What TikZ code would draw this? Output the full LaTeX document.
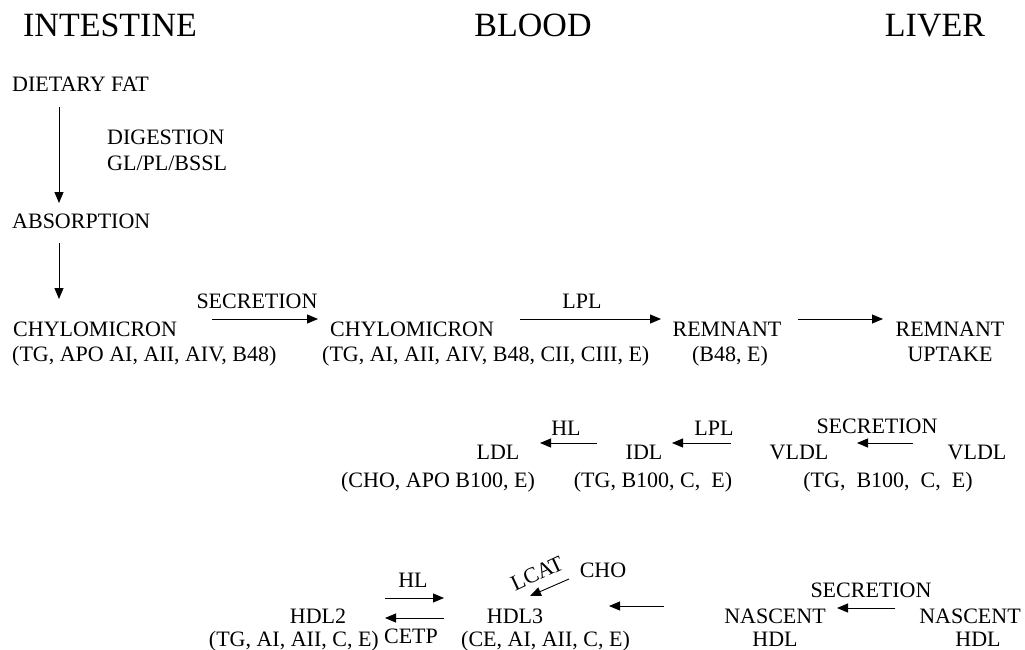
\documentclass[tikz,border=0pt]{standalone}
\usepackage{fontspec}
\setmainfont{Liberation Serif}
\usetikzlibrary{arrows.meta}

\begin{document}
\begin{tikzpicture}[x=1pt,y=-1pt,
  txt/.style={inner sep=0pt,font=\fontsize{22}{25}\selectfont},
  ttl/.style={inner sep=0pt,font=\fontsize{34}{38}\selectfont},
  arr/.style={-{Triangle[length=11pt,width=9pt]},line width=0.9pt}]
\useasboundingbox (0,0) rectangle (1025,650);
% titles
\node[ttl,anchor=base] (intes) at (110,37) {INTESTINE};
\node[ttl,anchor=base] (blood) at (533,37) {BLOOD};
\node[ttl,anchor=base] (liver) at (935,37) {LIVER};
% intestine column
\node[txt,anchor=base west] (fat) at (12,92) {DIETARY FAT};
\node[txt,anchor=base west] (dig) at (107,145) {DIGESTION};
\node[txt,anchor=base west] (bssl) at (107,170) {GL/PL/BSSL};
\node[txt,anchor=base west] (absn) at (12,228) {ABSORPTION};
\coordinate (d1) at (59,107); \coordinate (d2) at (59,203);
\coordinate (d3) at (59,243); \coordinate (d4) at (59,299);
\draw[arr] (d1) -- (d2);
\draw[arr] (d3) -- (d4);
% chylomicron row
\node[txt,anchor=base west] (chyA) at (13,336) {CHYLOMICRON};
\node[txt,anchor=base west] (chyAp) at (12,361) {(TG, APO AI, AII, AIV, B48)};
\node[txt,anchor=base] (secA) at (257,308) {SECRETION};
\node[txt,anchor=base west] (chyB) at (330,336) {CHYLOMICRON};
\node[txt,anchor=base west] (chyBp) at (322,361) {(TG, AI, AII, AIV, B48, CII, CIII, E)};
\node[txt,anchor=base] (lplA) at (582,308) {LPL};
\node[txt,anchor=base] (remA) at (727,336) {REMNANT};
\node[txt,anchor=base] (remAp) at (730,361) {(B48, E)};
\node[txt,anchor=base] (remB) at (950,336) {REMNANT};
\node[txt,anchor=base] (upt) at (950,361) {UPTAKE};
\coordinate (r1) at (212,319); \coordinate (r2) at (318,319);
\coordinate (r3) at (520,319); \coordinate (r4) at (661,319);
\coordinate (r5) at (798,319); \coordinate (r6) at (883,319);
\draw[arr] (r1) -- (r2);
\draw[arr] (r3) -- (r4);
\draw[arr] (r5) -- (r6);
% vldl row
\node[txt,anchor=base] (hlA) at (566,435) {HL};
\node[txt,anchor=base] (ldl) at (498,459) {LDL};
\node[txt,anchor=base] (ldlp) at (438,487) {(CHO, APO B100, E)};
\node[txt,anchor=base] (lplB) at (714,435) {LPL};
\node[txt,anchor=base] (idl) at (644,459) {IDL};
\node[txt,anchor=base] (idlp) at (653,487) {(TG, B100, C,\ \ E)};
\node[txt,anchor=base] (secB) at (877,433) {SECRETION};
\node[txt,anchor=base] (vldlA) at (799,459) {VLDL};
\node[txt,anchor=base] (vldlB) at (977,459) {VLDL};
\node[txt,anchor=base] (vldlp) at (888,487) {(TG,\ \ B100,\ \ C,\ \ E)};
\coordinate (v1) at (597,443); \coordinate (v2) at (540,443);
\coordinate (v3) at (731,443); \coordinate (v4) at (672,443);
\coordinate (v5) at (913,443); \coordinate (v6) at (857,443);
\draw[arr] (v1) -- (v2);
\draw[arr] (v3) -- (v4);
\draw[arr] (v5) -- (v6);
% hdl row
\node[txt,anchor=base] (hlB) at (413,587) {HL};
\node[txt,anchor=base] (cetp) at (411,643) {CETP};
\node[txt,anchor=base] (hdl2) at (318,623) {HDL2};
\node[txt,anchor=base east] (hdl2p) at (379,646) {(TG, AI, AII, C, E)};
\node[txt,anchor=base] (hdl3) at (515,623) {HDL3};
\node[txt,anchor=base west] (hdl3p) at (461,646) {(CE, AI, AII, C, E)};
\node[txt,anchor=base,rotate=25] (lcat) at (540,580) {LCAT};
\node[txt,anchor=base] (cho) at (603,577) {CHO};
\node[txt,anchor=base] (secC) at (871,597) {SECRETION};
\node[txt,anchor=base] (nasA) at (775,623) {NASCENT};
\node[txt,anchor=base] (nasAh) at (775,646) {HDL};
\node[txt,anchor=base] (nasB) at (970,623) {NASCENT};
\node[txt,anchor=base] (nasBh) at (978,646) {HDL};
\coordinate (h1) at (385,598); \coordinate (h2) at (444,598);
\coordinate (h3) at (444,618); \coordinate (h4) at (385,618);
\coordinate (h5) at (569,579); \coordinate (h6) at (530,596);
\coordinate (h7) at (664,606); \coordinate (h8) at (609,606);
\coordinate (h9) at (895,608); \coordinate (h10) at (837,608);
\draw[arr] (h1) -- (h2);
\draw[arr] (h3) -- (h4);
\draw[arr] (h5) -- (h6);
\draw[arr] (h7) -- (h8);
\draw[arr] (h9) -- (h10);
\end{tikzpicture}
\end{document}
